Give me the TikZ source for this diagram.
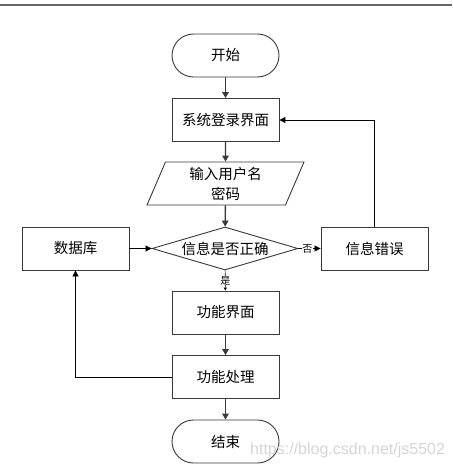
\documentclass[tikz,border=0pt]{standalone}
\usepackage{fontspec}
\setmainfont{Noto Sans CJK SC}
\newfontfamily\wmfont{Liberation Sans}
\usetikzlibrary{arrows.meta,shapes.geometric,calc}
\definecolor{edgec}{HTML}{3A3A3A}
\tikzset{
  base/.style={draw=edgec,line width=0.9pt,fill=white,minimum width=107pt,minimum height=43pt,inner sep=0pt,font=\fontsize{14.5}{20}\selectfont,align=center},
  procbox/.style={base,rectangle},
  termbox/.style={base,rectangle,rounded corners=21.5pt},
  iobox/.style={base,trapezium,trapezium left angle=61,trapezium right angle=119,trapezium stretches body,minimum width=157pt,minimum height=43pt},
  decbox/.style={base,diamond,aspect=3.4,minimum width=146pt,minimum height=43pt},
  varrow/.style={draw=edgec,line width=1.4pt,-{Triangle[length=6pt,width=6.5pt]}},
  harrow/.style={draw=black,line width=0.8pt,-{Triangle[length=6pt,width=6pt]}},
  lbl/.style={fill=white,inner sep=0.5pt,font=\fontsize{10}{11}\selectfont},
}
\begin{document}
\begin{tikzpicture}[x=1pt,y=-1pt]
\useasboundingbox (0,0) rectangle (452,465);
\fill[white] (0,0) rectangle (452,465);
\draw[line width=2pt,draw=black!60] (0,5) -- (452,5);
\node[termbox] (start) at (225.5,55.5) {开始};
\node[procbox] (login) at (225.5,120) {系统登录界面};
\node[iobox] (input) at (225.5,183.5) {输入用户名\\密码};
\node[decbox] (check) at (225,248.5) {信息是否正确};
\node[procbox] (db) at (75.5,248.5) {数据库};
\node[procbox] (err) at (374.5,248.5) {信息错误};
\node[procbox] (func) at (225.5,312.5) {功能界面};
\node[procbox] (proc) at (225.5,377) {功能处理};
\node[termbox] (stop) at (225.5,441.5) {结束};
\draw[varrow] (start) -- (login);
\draw[varrow] (login) -- (input);
\draw[varrow] (input) -- (check);
\draw[varrow] (func) -- (proc);
\draw[varrow] (proc) -- (stop);
\draw[harrow] (check) -- node[lbl,pos=0.4] {否} (err);
\draw[draw=black,line width=0.6pt,-{Triangle[length=3pt,width=3pt]}] (check) -- node[lbl,pos=0.5] {是} (func);
\draw[harrow] (db) -- (check);
\draw[harrow] (err.north) |- (login.east);
\draw[harrow] (proc.west) -| (db.south);
\node[anchor=base west,inner sep=0pt,text=black!18,opacity=0.9,font=\wmfont\fontsize{16}{18}\selectfont] (wm) at (250,454) {https://blog.csdn.net/js5502};
\end{tikzpicture}
\end{document}
